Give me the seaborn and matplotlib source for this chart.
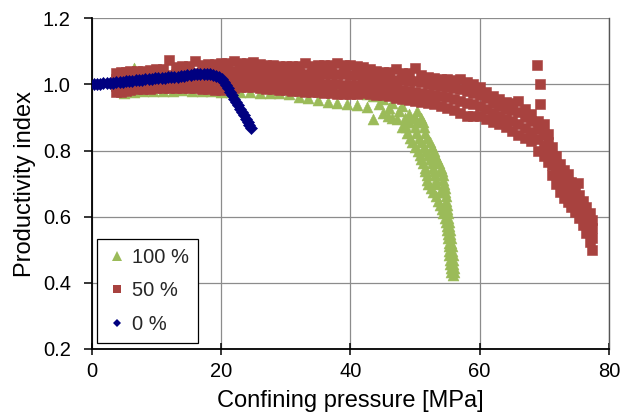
import matplotlib
matplotlib.use("Agg")
import matplotlib.pyplot as plt
from matplotlib.lines import Line2D
import seaborn as sns
import pandas as pd

# ---------------- data ----------------
# 50 % series: dense band -> x positions with four rows of points (top .. bottom)
red_x = [3.8, 4.5, 5.3, 6, 7, 8, 9, 10, 11, 12, 13, 14, 15, 16, 17, 18, 19, 20,
         21, 22, 23, 24, 25, 26, 27, 28, 29, 30, 31, 32, 33, 34, 35, 36, 37, 38,
         39, 40, 41, 42, 43, 44, 45, 46, 47, 48, 49, 50, 51, 52, 53, 54, 55, 56,
         57, 58, 59, 60, 61, 62, 63, 64, 65, 66, 67, 68, 69, 70, 70.6, 71.2, 71.8,
         72.4, 73.0, 73.6, 74.2, 74.8, 75.4, 76.0, 76.5, 77.0, 77.4]
red_top = [1.036, 1.037, 1.038, 1.040, 1.041, 1.042, 1.044, 1.046, 1.048, 1.073,
           1.053, 1.055, 1.057, 1.070, 1.059, 1.061, 1.063, 1.064, 1.064, 1.070,
           1.064, 1.064, 1.068, 1.062, 1.060, 1.058, 1.057, 1.056, 1.057, 1.057,
           1.066, 1.057, 1.058, 1.058, 1.059, 1.066, 1.060, 1.059, 1.056, 1.052,
           1.048, 1.042, 1.038, 1.037, 1.048, 1.036, 1.036, 1.050, 1.028, 1.022,
           1.019, 1.017, 1.015, 1.012, 1.016, 1.006, 1.000, 0.991, 0.978, 0.966,
           0.956, 0.948, 0.944, 0.950, 0.925, 0.910, 0.890, 0.880, 0.850, 0.810,
           0.785, 0.760, 0.742, 0.728, 0.705, 0.682, 0.665, 0.648, 0.630, 0.610,
           0.590]
red_upper = [1.016, 1.017, 1.019, 1.020, 1.022, 1.023, 1.025, 1.026, 1.028, 1.030,
             1.031, 1.033, 1.034, 1.035, 1.036, 1.037, 1.038, 1.038, 1.039, 1.040,
             1.040, 1.040, 1.040, 1.038, 1.036, 1.035, 1.034, 1.033, 1.033, 1.033,
             1.033, 1.032, 1.032, 1.032, 1.032, 1.032, 1.031, 1.030, 1.028, 1.026,
             1.024, 1.020, 1.017, 1.015, 1.014, 1.012, 1.011, 1.009, 1.006, 1.002,
             0.999, 0.996, 0.993, 0.989, 0.985, 0.980, 0.975, 0.969, 0.958, 0.945,
             0.935, 0.927, 0.922, 0.918, 0.902, 0.888, 0.866, 0.850, 0.825, 0.785,
             0.760, 0.738, 0.720, 0.705, 0.683, 0.662, 0.643, 0.625, 0.605, 0.585,
             0.565]
red_lower = [0.996, 0.998, 1.000, 1.001, 1.003, 1.004, 1.006, 1.007, 1.008, 1.009,
             1.010, 1.011, 1.011, 1.012, 1.012, 1.012, 1.012, 1.011, 1.013, 1.015,
             1.016, 1.016, 1.016, 1.014, 1.012, 1.010, 1.008, 1.007, 1.006, 1.005,
             1.005, 1.004, 1.003, 1.002, 1.001, 1.000, 0.999, 0.999, 0.999, 0.999,
             0.997, 0.994, 0.991, 0.989, 0.986, 0.983, 0.981, 0.978, 0.975, 0.972,
             0.968, 0.964, 0.961, 0.955, 0.949, 0.943, 0.940, 0.936, 0.925, 0.913,
             0.904, 0.897, 0.889, 0.879, 0.868, 0.857, 0.835, 0.815, 0.795, 0.755,
             0.730, 0.710, 0.690, 0.675, 0.655, 0.638, 0.618, 0.600, 0.578, 0.555,
             0.535]
red_bottom = [0.976, 0.978, 0.981, 0.983, 0.985, 0.986, 0.987, 0.988, 0.988, 0.989,
              0.989, 0.989, 0.989, 0.988, 0.987, 0.986, 0.984, 0.983, 0.986, 0.989,
              0.991, 0.992, 0.991, 0.989, 0.987, 0.985, 0.983, 0.982, 0.980, 0.979,
              0.978, 0.977, 0.976, 0.975, 0.973, 0.971, 0.970, 0.970, 0.971, 0.973,
              0.971, 0.969, 0.967, 0.964, 0.960, 0.956, 0.953, 0.950, 0.947, 0.944,
              0.940, 0.935, 0.930, 0.922, 0.914, 0.906, 0.906, 0.905, 0.896, 0.887,
              0.879, 0.871, 0.860, 0.847, 0.839, 0.830, 0.800, 0.785, 0.765, 0.725,
              0.700, 0.675, 0.658, 0.645, 0.628, 0.614, 0.595, 0.575, 0.552, 0.525,
              0.500]
red_extra_x = [68.9, 69.4, 69.3, 75.2]
red_extra_y = [1.059, 1.000, 0.940, 0.702]

# 100 % series: flat part (two rows) and steep tail
green_x = [5.0, 6.5, 8.0, 9.5, 11.0, 12.5, 14.0, 15.5, 17.0, 18.5, 20.0, 21.5,
           23.0, 24.5, 26.0, 27.5, 29.0, 30.5, 32.0, 33.5, 35.0, 36.5, 38.0, 39.5,
           41.0, 42.5, 43.5, 45.0, 46.5, 48.0]
green_upper = [1.005, 1.050, 1.008, 1.010, 1.010, 1.011, 1.011, 1.011, 1.010, 1.010,
               1.009, 1.008, 1.007, 1.005, 1.003, 1.001, 0.999, 0.996, 0.993, 0.990,
               0.987, 0.984, 0.981, 0.978, 0.975, 0.972, 0.965, 0.955, 0.945, 0.935]
green_lower = [0.975, 0.977, 0.979, 0.980, 0.980, 0.981, 0.982, 0.981, 0.980, 0.979,
               0.978, 0.978, 0.977, 0.976, 0.975, 0.974, 0.973, 0.970, 0.963, 0.958,
               0.952, 0.948, 0.945, 0.942, 0.937, 0.932, 0.895, 0.915, 0.900, 0.870]
green_tail_x = [44.5, 46.0, 47.5, 49.0, 50.3, 45.8, 47.2, 48.6, 50.0,
                48.5, 49.8, 51.0, 49.0, 50.3, 51.2, 48.6, 50.0, 51.4,
                48.8, 50.2, 51.6, 49.3, 50.6, 51.9, 49.6, 51.0, 52.3,
                50.0, 51.4, 52.6, 50.4, 51.7, 52.9, 50.7, 52.0, 53.1,
                51.0, 52.3, 53.4, 51.3, 52.6, 53.7, 51.5, 52.8, 54.0,
                51.6, 52.9, 54.1, 51.8, 53.1, 54.3, 51.9, 53.2, 54.4,
                52.0, 53.3, 54.5, 52.4, 54.6, 52.8, 53.8, 54.7, 53.2, 54.8,
                53.5, 54.8, 53.8, 54.9, 54.1, 55.0, 54.4, 55.1, 54.6, 55.1,
                54.8, 55.2, 54.9, 55.3, 55.0, 55.35, 55.1, 55.4, 55.15, 55.5,
                55.2, 55.6, 55.2, 55.65, 55.2, 55.7, 55.3, 55.8, 55.4, 55.9,
                55.45, 55.95, 55.5, 56.0, 55.6, 56.0, 55.8]
green_tail_y = [0.940, 0.930, 0.920, 0.910, 0.920, 0.905, 0.895, 0.885, 0.900,
                0.900, 0.900, 0.900, 0.885, 0.885, 0.885, 0.870, 0.870, 0.870,
                0.852, 0.852, 0.852, 0.838, 0.838, 0.838, 0.825, 0.825, 0.825,
                0.812, 0.812, 0.812, 0.800, 0.800, 0.800, 0.787, 0.787, 0.787,
                0.775, 0.775, 0.775, 0.762, 0.762, 0.762, 0.748, 0.748, 0.748,
                0.737, 0.737, 0.737, 0.725, 0.725, 0.725, 0.712, 0.712, 0.712,
                0.700, 0.700, 0.700, 0.688, 0.688, 0.675, 0.675, 0.675, 0.662, 0.662,
                0.648, 0.648, 0.635, 0.635, 0.622, 0.622, 0.610, 0.610, 0.597, 0.597,
                0.585, 0.585, 0.572, 0.572, 0.560, 0.560, 0.548, 0.548, 0.535, 0.535,
                0.522, 0.522, 0.510, 0.510, 0.497, 0.497, 0.483, 0.483, 0.470, 0.470,
                0.457, 0.457, 0.445, 0.445, 0.434, 0.434, 0.424]

# 0 % series
blue_x = [0.3, 0.8, 1.3, 1.8, 2.3, 2.8, 3.3, 3.8, 4.3, 4.8, 5.3, 5.8, 6.3, 6.8,
          7.3, 7.8, 8.3, 8.8, 9.3, 9.8, 10.3, 10.8, 11.3, 11.8, 12.3, 12.8, 13.3,
          13.8, 14.3, 14.8, 15.3, 15.8, 16.3, 16.8, 17.3, 17.8, 18.3, 18.8, 19.3,
          19.7, 20.1, 20.5, 20.8, 21.1, 21.4, 21.7, 22.0, 22.3, 22.6, 22.9, 23.2,
          23.5, 23.8, 24.1, 24.4, 24.7]
blue_y = [1.000, 1.001, 1.002, 1.003, 1.004, 1.004, 1.005, 1.006, 1.007, 1.008,
          1.009, 1.010, 1.011, 1.012, 1.013, 1.014, 1.015, 1.016, 1.017, 1.018,
          1.019, 1.019, 1.020, 1.021, 1.022, 1.023, 1.024, 1.026, 1.027, 1.029,
          1.030, 1.031, 1.032, 1.033, 1.033, 1.033, 1.032, 1.030, 1.027, 1.022,
          1.015, 1.006, 0.997, 0.988, 0.978, 0.967, 0.957, 0.947, 0.937, 0.927,
          0.917, 0.907, 0.897, 0.887, 0.877, 0.867]

labels = ["100 %", "50 %", "0 %"]
x_ticks = [0, 20, 40, 60, 80]
y_ticks = [0.2, 0.4, 0.6, 0.8, 1.0, 1.2]

# ---------------- assemble tables ----------------
red_df = pd.concat([
    pd.DataFrame({"x": red_x, "y": red_top}),
    pd.DataFrame({"x": red_x, "y": red_upper}),
    pd.DataFrame({"x": red_x, "y": red_lower}),
    pd.DataFrame({"x": red_x, "y": red_bottom}),
    pd.DataFrame({"x": red_extra_x, "y": red_extra_y}),
], ignore_index=True)
green_df = pd.concat([
    pd.DataFrame({"x": green_x, "y": green_upper}),
    pd.DataFrame({"x": green_x, "y": green_lower}),
    pd.DataFrame({"x": green_tail_x, "y": green_tail_y}),
], ignore_index=True)
blue_df = pd.DataFrame({"x": blue_x, "y": blue_y})

GREEN = "#9BBB59"
RED = "#A8423F"
BLUE = "#000080"

sns.set_theme(style="white")
plt.rcParams["font.family"] = ["Liberation Sans", "DejaVu Sans"]

fig = plt.figure(figsize=(6.22, 4.16), dpi=100)
ax = fig.add_axes([91.7 / 622, 1 - 349 / 416, (609 - 91.7) / 622, (349 - 18.3) / 416])

sns.scatterplot(data=green_df, x="x", y="y", ax=ax, marker="^", s=62,
                color=GREEN, legend=False, zorder=3)
sns.scatterplot(data=red_df, x="x", y="y", ax=ax, marker="s", s=60,
                color=RED, legend=False, zorder=4)
sns.scatterplot(data=blue_df, x="x", y="y", ax=ax, marker="D", s=38,
                color=BLUE, legend=False, zorder=5)

# solid marker fills (no white seaborn edges)
for coll, col in zip(ax.collections, [GREEN, RED, BLUE]):
    coll.set_facecolor(col)
    coll.set_edgecolor(col)
    coll.set_linewidth(0.4)

ax.set_xlim(0, 80)
ax.set_ylim(0.2, 1.2)
ax.set_xticks(x_ticks)
ax.set_yticks(y_ticks)
ax.set_yticklabels([f"{v:.1f}" for v in y_ticks])
ax.grid(True, color="#8c8c8c", linewidth=0.9, zorder=0)
ax.set_axisbelow(True)

for side in ["left", "bottom"]:
    ax.spines[side].set_color("black")
    ax.spines[side].set_linewidth(1.3)
ax.spines["right"].set_color("#555555")
ax.spines["right"].set_linewidth(1.0)
ax.spines["top"].set_visible(False)

ax.tick_params(axis="y", direction="out", length=6, width=1.1, pad=9,
               labelsize=14.5, colors="black", left=True)
ax.tick_params(axis="x", direction="inout", length=9, width=1.1, pad=5,
               labelsize=14.5, colors="black", bottom=True)

ax.set_xlabel("Confining pressure [MPa]", fontsize=17, color="black", labelpad=6)
ax.set_ylabel("Productivity index", fontsize=17, color="black", labelpad=5)

handles = [
    Line2D([], [], linestyle="none", marker="^", markersize=7.5, color=GREEN, markeredgewidth=0),
    Line2D([], [], linestyle="none", marker="s", markersize=6.0, color=RED, markeredgewidth=0),
    Line2D([], [], linestyle="none", marker="D", markersize=3.8, color=BLUE, markeredgewidth=0),
]
leg = ax.legend(handles, labels, loc="lower left", bbox_to_anchor=(0.011, 0.018),
                borderaxespad=0, fontsize=14.5, frameon=True, fancybox=False,
                edgecolor="black", framealpha=1, handlelength=1.0,
                handletextpad=0.25, labelspacing=0.72, borderpad=0.45)
leg.get_frame().set_linewidth(0.9)
leg.set_zorder(10)

fig.savefig("out.png", dpi=100)
